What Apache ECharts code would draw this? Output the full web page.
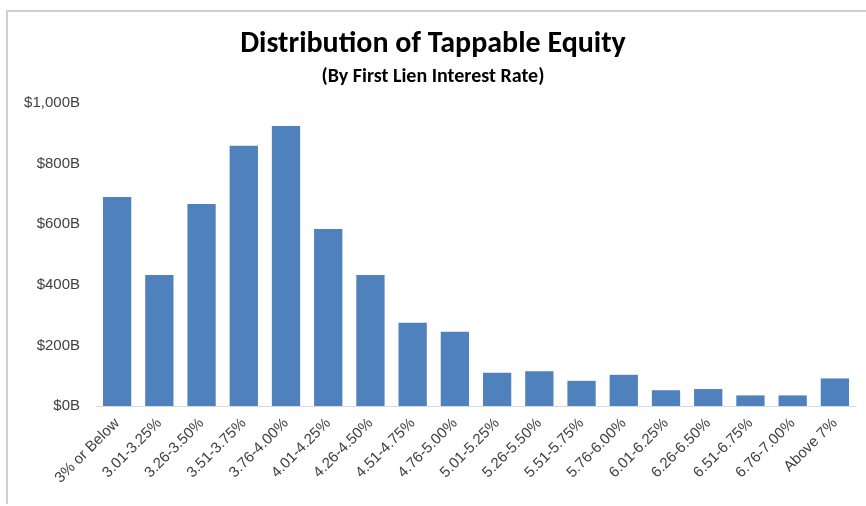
<!DOCTYPE html>
<html>
<head>
<meta charset="utf-8">
<script src="https://cdn.jsdelivr.net/npm/echarts@6/dist/echarts.min.js"></script>
<style>
  html, body { margin: 0; padding: 0; background: #fff; }
  #frame {
    position: absolute; left: 6px; top: 10px; width: 870px; height: 492px;
    border-top: 2px solid #cfcfcf; border-left: 2px solid #cfcfcf;
  }
  #chart { position: absolute; left: 0; top: 0; width: 866px; height: 506px; }
</style>
</head>
<body>
<div id="frame"></div>
<div id="chart"></div>
<script>
// rate buckets (first lien interest rate)
const categories = [
  "3% or Below", "3.01-3.25%", "3.26-3.50%", "3.51-3.75%", "3.76-4.00%",
  "4.01-4.25%", "4.26-4.50%", "4.51-4.75%", "4.76-5.00%", "5.01-5.25%",
  "5.26-5.50%", "5.51-5.75%", "5.76-6.00%", "6.01-6.25%", "6.26-6.50%",
  "6.51-6.75%", "6.76-7.00%", "Above 7%"
];
// tappable equity, $B
const equity = [690, 432, 667, 859, 924, 584, 432, 275, 245, 110,
                115, 83, 103, 52, 56, 35, 35, 91];
const yTicks = [0, 200, 400, 600, 800, 1000];

const titleFont = 'Carlito, "Liberation Sans Narrow", "DejaVu Sans Condensed", Roboto, sans-serif';
const labelFont = '"Liberation Sans", Arial, sans-serif';

const chart = echarts.init(document.getElementById("chart"));
chart.setOption({
  animation: false,
  title: [
    {
      text: "Distribution of Tappable Equity",
      left: "center",
      top: 24,
      textStyle: { fontFamily: titleFont, fontSize: 30, fontWeight: "bold", color: "#000" }
    },
    {
      text: "(By First Lien Interest Rate)",
      left: "center",
      top: 62,
      textStyle: { fontFamily: titleFont, fontSize: 20, fontWeight: "bold", color: "#000" }
    }
  ],
  grid: { left: 96, right: 10, top: 103, bottom: 100 },
  xAxis: {
    type: "category",
    data: categories,
    axisTick: { show: false },
    axisLine: { lineStyle: { color: "#d9d9d9", width: 1 } },
    axisLabel: {
      interval: 0,
      rotate: 45,
      margin: 15,
      fontFamily: labelFont,
      fontSize: 15,
      color: "#404040"
    }
  },
  yAxis: {
    type: "value",
    min: yTicks[0],
    max: yTicks[yTicks.length - 1],
    interval: 200,
    splitLine: { show: false },
    axisLine: { show: false },
    axisTick: { show: false },
    axisLabel: {
      margin: 16,
      fontFamily: labelFont,
      fontSize: 15,
      color: "#404040",
      formatter: v => "$" + v.toLocaleString("en-US") + "B"
    }
  },
  series: [{
    type: "bar",
    data: equity,
    barCategoryGap: "33%",
    itemStyle: { color: "#4f81bd" }
  }]
});
</script>
</body>
</html>
